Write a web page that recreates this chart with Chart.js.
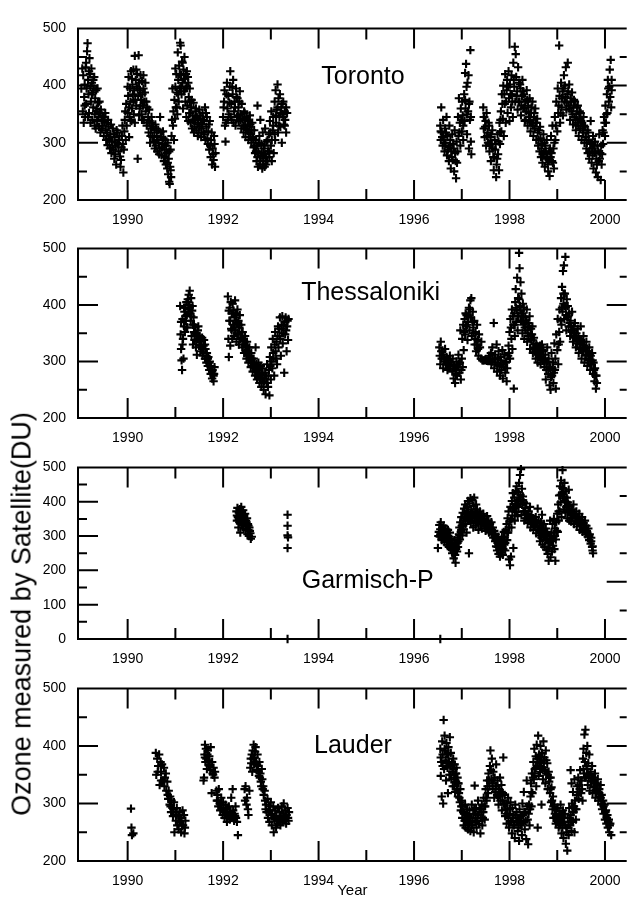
<!DOCTYPE html>
<html>
<head>
<meta charset="utf-8">
<script src="https://cdn.jsdelivr.net/npm/chart.js@4.4.1/dist/chart.umd.min.js"></script>
<style>
  html, body { margin: 0; padding: 0; background: #fff; overflow: hidden; }
  #page { position: relative; width: 633px; height: 900px; }
  #page canvas { position: absolute; left: 0; }
  #ytitle { position: absolute; left: 22px; top: 614px; transform: translate(-50%, -50%) rotate(-90deg);
    font: 27px "Liberation Sans", Arial, sans-serif; white-space: nowrap; color: #000; }
</style>
</head>
<body>
<div id="page">
  <canvas id="c0"></canvas>
  <canvas id="c1"></canvas>
  <canvas id="c2"></canvas>
  <canvas id="c3"></canvas>
  <div id="ytitle">Ozone measured by Satellite(DU)</div>
</div>
<script>
'use strict';

const tickYears = [1990, 1992, 1994, 1996, 1998, 2000];
const ozoneTicks = [200, 300, 400, 500];
const garmischTicks = [0, 100, 200, 300, 400, 500];
const stations = ['Toronto', 'Thessaloniki', 'Garmisch-P', 'Lauder'];

// [year, ozone DU]
const toronto = [
[1989.05,430],[1989.06,355],[1989.08,335],[1989.09,380],[1989.1,402],[1989.11,345],[1989.12,432],[1989.13,368],[1989.14,395],[1989.15,460],[1989.16,474],[1989.17,410],[1989.18,385],[1989.19,352],[1989.2,448],[1989.21,420],[1989.22,398],[1989.23,372],[1989.24,430],[1989.25,405],[1989.26,340],[1989.27,388],[1989.28,362],[1989.29,395],[1989.3,415],[1989.31,350],[1989.32,378],[1989.33,325],[1989.34,392],[1989.35,360],[1989.36,338],[1989.38,370],[1989.39,345],[1989.4,328],[1989.42,352],[1989.43,318],[1989.45,340],[1989.47,348],[1989.48,330],[1989.5,312],[1989.52,338],[1989.54,322],[1989.55,305],
[1989.57,318],[1989.58,296],[1989.6,328],[1989.61,308],[1989.63,290],[1989.64,315],[1989.66,282],[1989.67,302],[1989.69,325],[1989.7,288],[1989.72,272],[1989.73,310],[1989.75,295],[1989.76,262],[1989.78,300],[1989.79,318],[1989.81,285],[1989.82,305],[1989.84,276],[1989.85,258],[1989.87,292],[1989.88,312],[1989.9,298],[1989.91,248],[1989.93,320],[1989.94,340],[1989.96,305],
[1989.97,368],[1989.98,330],[1990.0,352],[1990.01,382],[1990.02,415],[1990.03,310],[1990.04,345],[1990.05,395],[1990.06,372],[1990.07,425],[1990.08,338],[1990.09,360],[1990.1,402],[1990.11,385],[1990.12,428],[1990.13,350],[1990.14,392],[1990.15,452],[1990.16,375],[1990.17,410],[1990.18,365],[1990.19,398],[1990.2,420],[1990.21,272],[1990.22,382],[1990.23,453],[1990.24,405],[1990.25,360],[1990.26,392],[1990.27,418],[1990.28,375],[1990.29,350],[1990.3,408],[1990.31,385],[1990.32,365],[1990.33,395],[1990.34,340],[1990.35,372],[1990.37,405],[1990.38,355],[1990.4,330],[1990.41,362],[1990.43,345],[1990.44,318],[1990.46,338],[1990.47,300],[1990.49,325],[1990.5,345],[1990.52,310],[1990.53,328],
[1990.55,302],[1990.56,318],[1990.58,332],[1990.59,295],[1990.61,312],[1990.62,285],[1990.64,322],[1990.65,300],[1990.67,290],[1990.68,345],[1990.7,310],[1990.71,278],[1990.73,298],[1990.74,320],[1990.76,268],[1990.77,288],[1990.79,305],[1990.8,262],[1990.82,282],[1990.83,255],[1990.84,300],[1990.85,245],[1990.86,272],[1990.87,232],[1990.88,228],[1990.89,258],[1990.9,288],[1990.91,240],[1990.92,312],[1990.93,340],[1990.94,395],[1990.95,330],[1990.96,355],
[1990.97,305],[1990.98,375],[1990.99,342],[1991.0,398],[1991.01,362],[1991.02,420],[1991.03,388],[1991.04,350],[1991.05,458],[1991.06,410],[1991.07,372],[1991.08,435],[1991.09,395],[1991.1,475],[1991.11,470],[1991.12,418],[1991.13,385],[1991.14,442],[1991.15,405],[1991.16,360],[1991.17,428],[1991.18,390],[1991.19,450],[1991.2,412],[1991.21,372],[1991.22,420],[1991.23,345],[1991.24,398],[1991.25,365],[1991.26,415],[1991.27,338],[1991.28,380],[1991.29,352],[1991.3,395],
[1991.32,335],[1991.33,362],[1991.35,325],[1991.36,348],[1991.38,370],[1991.39,318],[1991.41,340],[1991.42,355],[1991.44,322],[1991.45,345],[1991.47,312],[1991.48,335],[1991.5,358],[1991.51,328],[1991.53,342],[1991.54,310],[1991.56,332],[1991.57,352],[1991.59,318],[1991.6,338],[1991.62,362],[1991.63,305],[1991.65,328],[1991.66,345],[1991.68,298],[1991.69,320],[1991.71,288],[1991.72,338],[1991.74,275],[1991.75,305],[1991.77,262],[1991.78,290],[1991.8,270],[1991.81,312],[1991.83,258],[1991.84,282],
[1992.0,345],[1992.02,372],[1992.03,392],[1992.05,302],[1992.06,335],[1992.08,405],[1992.09,360],[1992.11,382],[1992.12,350],[1992.14,398],[1992.15,425],[1992.17,368],[1992.18,340],[1992.2,385],[1992.21,410],[1992.23,355],[1992.24,372],[1992.26,330],[1992.27,395],[1992.29,345],[1992.3,378],[1992.32,362],[1992.33,338],[1992.35,390],[1992.36,350],[1992.38,325],[1992.39,368],
[1992.41,342],[1992.43,318],[1992.44,355],[1992.46,330],[1992.47,310],[1992.49,345],[1992.5,322],[1992.52,338],[1992.53,305],[1992.55,328],[1992.56,348],[1992.58,315],[1992.59,300],[1992.61,335],[1992.62,310],[1992.64,292],
[1992.65,322],[1992.67,282],[1992.68,305],[1992.7,268],[1992.71,295],[1992.72,365],[1992.73,258],[1992.74,285],[1992.76,312],[1992.77,262],[1992.78,340],[1992.79,278],[1992.8,298],[1992.82,255],[1992.83,318],[1992.84,272],[1992.85,290],[1992.87,258],[1992.88,325],[1992.89,280],[1992.9,262],[1992.91,302],[1992.93,268],[1992.94,285],
[1992.96,315],[1992.97,275],[1992.98,338],[1993.0,295],[1993.01,355],[1993.02,268],[1993.04,322],[1993.05,345],[1993.06,282],[1993.08,372],[1993.09,305],[1993.1,392],[1993.11,335],[1993.12,358],[1993.14,402],[1993.15,318],[1993.16,378],[1993.18,345],[1993.19,385],[1993.2,328],[1993.22,362],[1993.23,300],[1993.24,350],[1993.26,372],[1993.27,332],[1993.29,355],[1993.3,340],[1993.32,318],[1993.34,352],
[1996.55,330],[1996.56,305],[1996.57,362],[1996.58,318],[1996.6,295],[1996.61,340],[1996.62,310],[1996.64,285],[1996.65,325],[1996.66,300],[1996.68,345],[1996.69,278],[1996.7,312],[1996.72,292],[1996.73,268],[1996.74,330],[1996.76,305],[1996.77,255],[1996.78,285],[1996.8,315],[1996.81,270],[1996.82,298],[1996.84,250],[1996.85,322],[1996.86,282],[1996.88,238],[1996.89,302],[1996.9,265],[1996.92,345],[1996.93,312],[1996.94,378],
[1996.96,335],[1996.97,295],[1996.98,360],[1997.0,320],[1997.01,372],[1997.02,348],[1997.03,305],[1997.05,385],[1997.06,338],[1997.07,422],[1997.08,360],[1997.09,438],[1997.1,398],[1997.11,315],[1997.12,405],[1997.13,355],[1997.14,418],[1997.15,290],[1997.16,372],[1997.17,340],[1997.18,462],[1997.19,302],[1997.2,280],
[1997.45,362],[1997.46,325],[1997.47,345],[1997.48,310],[1997.5,338],[1997.51,295],[1997.52,352],[1997.54,318],[1997.55,300],[1997.57,330],[1997.58,285],[1997.6,310],[1997.61,268],[1997.63,298],[1997.64,322],[1997.66,275],[1997.67,252],[1997.69,305],[1997.7,288],[1997.72,240],[1997.73,262],[1997.75,315],[1997.76,280],[1997.78,252],[1997.79,335],
[1997.8,298],[1997.82,355],[1997.83,320],[1997.84,385],[1997.86,342],[1997.87,400],[1997.88,312],[1997.9,368],[1997.91,420],[1997.92,335],[1997.94,392],[1997.95,410],[1997.96,352],[1997.98,425],[1997.99,378],[1998.0,338],[1998.01,402],[1998.03,362],[1998.04,418],[1998.05,385],[1998.07,345],[1998.08,440],[1998.1,398],[1998.11,468],[1998.12,372],[1998.13,455],[1998.14,415],[1998.16,390],[1998.17,358],[1998.18,432],[1998.2,405],
[1998.21,372],[1998.23,395],[1998.24,348],[1998.26,382],[1998.27,410],[1998.29,360],[1998.3,385],[1998.32,338],[1998.33,372],[1998.35,355],[1998.36,392],[1998.38,330],[1998.39,365],[1998.41,345],[1998.42,378],[1998.44,320],[1998.45,352],[1998.47,335],[1998.48,372],[1998.5,312],[1998.51,345],[1998.53,325],[1998.54,360],[1998.56,305],[1998.57,335],[1998.59,318],
[1998.6,295],[1998.62,322],[1998.63,285],[1998.65,308],[1998.66,275],[1998.68,298],[1998.69,265],[1998.71,315],[1998.72,282],[1998.74,258],[1998.75,295],[1998.77,272],[1998.78,305],[1998.8,262],[1998.81,250],[1998.83,285],[1998.84,242],[1998.86,275],[1998.87,312],[1998.89,268],[1998.9,330],[1998.92,290],[1998.93,255],
[1998.95,345],[1998.96,305],[1998.98,372],[1999.0,320],[1999.01,395],[1999.02,352],[1999.04,470],[1999.05,382],[1999.06,335],[1999.08,405],[1999.09,362],[1999.11,390],[1999.12,348],[1999.14,418],[1999.15,372],[1999.16,400],[1999.18,432],[1999.19,358],[1999.21,385],[1999.22,440],[1999.24,365],[1999.25,402],[1999.27,340],[1999.28,378],[1999.3,355],
[1999.31,388],[1999.33,332],[1999.34,362],[1999.36,345],[1999.37,372],[1999.39,322],[1999.4,350],[1999.42,335],[1999.43,365],[1999.45,312],[1999.46,342],[1999.48,325],[1999.49,352],[1999.51,305],[1999.52,335],[1999.54,318],[1999.55,345],[1999.57,300],[1999.58,328],
[1999.6,310],[1999.61,290],[1999.63,322],[1999.64,282],[1999.66,305],[1999.67,272],[1999.69,298],[1999.7,338],[1999.72,265],[1999.73,290],[1999.75,312],[1999.76,255],[1999.78,282],[1999.79,302],[1999.81,248],[1999.82,272],[1999.84,295],[1999.85,240],[1999.87,268],[1999.88,315],[1999.9,282],[1999.91,235],[1999.93,262],
[1999.95,322],[1999.96,298],[1999.98,345],[2000.0,312],[2000.01,365],[2000.02,335],[2000.04,385],[2000.05,352],[2000.06,410],[2000.08,372],[2000.09,398],[2000.1,428],[2000.12,445],[2000.13,362],[2000.14,392],
// second pass, inside the dense clouds
[1989.03,395],[1989.07,418],[1989.1,365],[1989.13,440],[1989.17,345],[1989.19,425],[1989.22,335],[1989.25,385],[1989.28,410],[1989.31,330],[1989.34,355],[1989.37,395],[1989.41,372],[1989.44,358],[1989.46,325],[1989.49,345],[1989.53,352],[1989.56,335],
[1989.59,340],[1989.62,305],[1989.65,332],[1989.68,292],[1989.71,315],[1989.74,280],[1989.77,322],[1989.8,298],[1989.83,312],[1989.86,270],[1989.89,330],[1989.92,288],[1989.95,355],
[1990.0,398],[1990.03,362],[1990.06,340],[1990.09,412],[1990.12,372],[1990.15,335],[1990.18,428],[1990.21,395],[1990.24,348],[1990.27,365],[1990.3,340],[1990.33,418],[1990.36,388],[1990.39,372],[1990.42,335],[1990.45,358],[1990.48,312],[1990.51,335],
[1990.57,290],[1990.6,325],[1990.63,305],[1990.66,280],[1990.69,318],[1990.72,292],[1990.75,308],[1990.78,275],[1990.81,295],[1990.84,265],[1990.87,285],[1990.9,252],
[1991.0,430],[1991.03,362],[1991.06,385],[1991.09,420],[1991.12,398],[1991.15,440],[1991.18,412],[1991.21,395],[1991.24,425],[1991.27,405],[1991.3,372],
[1991.31,352],[1991.34,375],[1991.37,340],[1991.4,328],[1991.43,360],[1991.46,332],[1991.49,318],[1991.52,348],[1991.55,325],[1991.58,340],[1991.61,315],[1991.64,352],[1991.67,308],[1991.7,332],[1991.73,295],[1991.76,318],[1991.79,280],[1991.82,298],
[1992.01,362],[1992.04,330],[1992.07,385],[1992.1,340],[1992.13,370],[1992.16,345],[1992.19,398],[1992.22,335],[1992.25,362],[1992.28,380],[1992.31,348],[1992.34,372],[1992.37,340],
[1992.42,330],[1992.45,352],[1992.48,325],[1992.51,340],[1992.54,318],[1992.57,332],[1992.6,322],[1992.63,308],[1992.66,295],[1992.69,285],[1992.72,275],[1992.75,300],[1992.78,268],[1992.81,282],[1992.84,262],[1992.87,295],[1992.9,275],[1992.93,305],[1992.96,285],[1992.99,318],[1993.02,305],[1993.05,330],[1993.08,315],[1993.11,348],[1993.14,362],[1993.17,330],[1993.2,352],[1993.23,368],[1993.26,345],[1993.29,330],[1993.32,362],
[1996.56,320],[1996.59,310],[1996.63,300],[1996.67,318],[1996.71,288],[1996.75,295],[1996.79,275],[1996.83,290],[1996.87,268],[1996.91,285],[1996.95,318],[1996.99,340],[1997.03,330],[1997.07,375],[1997.11,350],[1997.15,368],[1997.19,345],
[1997.46,345],[1997.49,328],[1997.53,312],[1997.56,335],[1997.59,298],[1997.62,315],[1997.65,290],[1997.68,275],[1997.71,298],[1997.74,272],[1997.77,302],[1997.8,318],
[1997.81,340],[1997.85,368],[1997.89,385],[1997.93,372],[1997.97,398],[1998.02,385],[1998.06,372],[1998.09,410],[1998.15,382],[1998.19,372],[1998.22,402],[1998.25,365],[1998.28,390],[1998.31,362],[1998.34,340],[1998.37,375],[1998.4,352],[1998.43,338],[1998.46,362],[1998.49,330],[1998.52,352],[1998.55,335],[1998.58,342],
[1998.61,305],[1998.64,328],[1998.67,290],[1998.7,280],[1998.73,300],[1998.76,285],[1998.79,275],[1998.82,270],[1998.85,290],[1998.88,282],[1998.91,265],[1998.94,300],
[1998.97,330],[1999.03,365],[1999.07,352],[1999.1,378],[1999.13,395],[1999.17,380],[1999.2,370],[1999.23,390],[1999.26,360],[1999.29,372],[1999.32,350],[1999.35,375],[1999.38,340],[1999.41,362],[1999.44,330],[1999.47,355],[1999.5,338],[1999.53,322],[1999.56,330],[1999.59,310],
[1999.62,300],[1999.65,318],[1999.68,285],[1999.71,300],[1999.74,278],[1999.77,295],[1999.8,285],[1999.83,262],[1999.86,285],[1999.89,272],[1999.92,295],[1999.94,280],[1999.97,318],[1999.99,335],[2000.03,350],[2000.07,395],[2000.11,380],[2000.14,410]
];

const thessaloniki = [
[1991.1,398],[1991.11,348],[1991.12,322],[1991.13,302],[1991.14,285],[1991.15,375],[1991.16,340],[1991.17,305],[1991.18,362],[1991.19,388],[1991.2,352],[1991.21,395],[1991.22,372],[1991.23,405],[1991.24,382],[1991.25,360],[1991.26,410],[1991.27,392],[1991.28,418],[1991.29,400],[1991.3,425],[1991.31,385],[1991.32,372],[1991.33,412],[1991.34,345],[1991.35,390],[1991.36,365],[1991.37,330],[1991.38,378],[1991.39,352],[1991.4,338],[1991.42,360],[1991.43,325],[1991.44,348],[1991.45,312],[1991.47,340],[1991.48,362],[1991.5,328],[1991.51,345],[1991.53,318],[1991.54,335],[1991.56,342],[1991.57,310],[1991.59,328],[1991.6,338],[1991.62,305],[1991.63,322],[1991.65,298],[1991.66,315],[1991.68,292],[1991.69,308],[1991.71,285],[1991.72,300],[1991.74,278],[1991.75,292],[1991.77,270],[1991.78,285],[1991.8,265],[1991.81,278],[1991.82,290],
[1992.1,415],[1992.11,340],[1992.12,308],[1992.13,372],[1992.14,395],[1992.15,328],[1992.16,405],[1992.17,358],[1992.18,385],[1992.19,340],[1992.2,402],[1992.21,365],[1992.22,390],[1992.23,345],[1992.24,378],[1992.25,408],[1992.26,355],[1992.27,385],[1992.28,335],[1992.29,368],[1992.3,392],[1992.31,348],[1992.32,372],[1992.33,330],[1992.34,360],[1992.35,382],[1992.37,342],[1992.38,365],[1992.4,325],[1992.41,352],[1992.43,338],[1992.44,315],[1992.46,345],[1992.47,328],[1992.49,305],[1992.5,335],[1992.52,318],[1992.53,298],[1992.55,325],[1992.56,308],[1992.58,290],[1992.59,315],[1992.61,298],[1992.62,282],[1992.64,305],[1992.65,288],[1992.67,275],[1992.68,325],[1992.7,295],[1992.71,268],[1992.73,285],[1992.74,298],[1992.76,262],[1992.77,278],[1992.79,292],[1992.8,255],[1992.82,272],[1992.83,288],[1992.85,250],[1992.86,265],[1992.88,280],[1992.89,242],[1992.91,262],[1992.92,295],[1992.94,255],[1992.95,275],[1992.97,240],[1992.98,308],[1993.0,268],[1993.01,325],[1993.03,288],[1993.04,340],[1993.06,305],[1993.07,275],[1993.09,352],[1993.1,318],[1993.12,335],[1993.13,295],[1993.15,362],[1993.16,325],[1993.18,345],[1993.19,378],[1993.21,310],[1993.22,358],[1993.24,380],[1993.25,332],[1993.27,365],[1993.28,280],[1993.3,348],[1993.31,378],[1993.33,318],[1993.34,362],[1993.36,338],[1993.37,375],
[1996.53,325],[1996.54,310],[1996.55,295],[1996.56,335],[1996.58,305],[1996.59,318],[1996.61,288],[1996.62,312],[1996.64,300],[1996.65,322],[1996.67,295],[1996.68,308],[1996.7,285],[1996.72,302],[1996.73,292],[1996.75,310],
[1996.78,298],[1996.8,282],[1996.81,305],[1996.83,270],[1996.84,292],[1996.86,262],[1996.87,285],[1996.89,300],[1996.9,275],[1996.92,290],[1996.93,312],[1996.95,280],[1996.96,298],[1996.98,268],[1996.99,285],[1997.0,305],[1997.02,290],
[1996.97,355],[1997.01,340],[1997.03,365],[1997.04,320],[1997.06,375],[1997.07,348],[1997.09,362],[1997.1,382],[1997.12,338],[1997.13,370],[1997.15,395],[1997.16,355],[1997.18,408],[1997.19,378],[1997.2,412],[1997.21,345],[1997.23,388],[1997.24,360],[1997.26,372],[1997.27,330],[1997.29,352],[1997.3,318],[1997.32,365],[1997.33,338],[1997.35,310],[1997.36,348],[1997.38,325],[1997.4,305],[1997.41,335],[1997.43,302],[1997.45,302],[1997.47,302],[1997.49,303],[1997.51,302],[1997.53,301],[1997.55,302],[1997.57,310],[1997.59,303],
[1997.61,315],[1997.62,295],[1997.64,325],[1997.65,305],[1997.67,368],[1997.68,288],[1997.7,312],[1997.71,298],[1997.73,330],[1997.74,282],[1997.76,305],[1997.77,318],[1997.79,292],[1997.8,275],[1997.82,302],[1997.83,285],[1997.85,320],[1997.86,270],[1997.88,295],[1997.89,312],[1997.91,280],[1997.92,298],[1997.94,265],[1997.95,288],[1997.97,310],
[1997.98,328],[1998.0,352],[1998.01,305],[1998.02,375],[1998.04,340],[1998.05,392],[1998.06,322],[1998.08,365],[1998.09,252],[1998.1,385],[1998.11,345],[1998.12,405],[1998.13,428],[1998.14,370],[1998.15,392],[1998.16,448],[1998.17,355],[1998.18,412],[1998.19,380],[1998.2,492],[1998.21,465],[1998.22,398],[1998.23,440],[1998.24,372],[1998.25,420],[1998.26,385],[1998.27,350],[1998.28,402],[1998.29,365],[1998.3,395],[1998.31,340],
[1998.33,378],[1998.34,355],[1998.36,392],[1998.37,335],[1998.39,368],[1998.4,345],[1998.42,380],[1998.43,322],[1998.45,358],[1998.46,338],[1998.48,362],[1998.49,315],[1998.51,342],
[1998.53,325],[1998.55,305],[1998.56,332],[1998.58,315],[1998.59,298],[1998.61,322],[1998.62,308],[1998.64,328],[1998.65,295],[1998.67,312],[1998.68,330],[1998.7,302],[1998.71,318],
[1998.73,290],[1998.75,312],[1998.76,268],[1998.78,298],[1998.79,325],[1998.81,278],[1998.82,305],[1998.84,258],[1998.85,288],[1998.86,250],[1998.88,315],[1998.89,275],[1998.91,298],[1998.92,262],[1998.94,332],[1998.95,285],[1998.97,252],[1998.98,348],
[1999.0,320],[1999.01,375],[1999.02,295],[1999.04,352],[1999.05,392],[1999.06,335],[1999.08,412],[1999.09,365],[1999.1,432],[1999.11,388],[1999.12,460],[1999.13,402],[1999.14,470],[1999.15,375],[1999.16,420],[1999.17,485],[1999.18,395],[1999.19,355],[1999.2,410],[1999.21,378],[1999.22,398],[1999.24,362],[1999.25,385],[1999.27,345],[1999.28,372],[1999.3,352],[1999.31,388],[1999.33,335],[1999.34,362],[1999.36,342],[1999.37,368],[1999.39,325],
[1999.4,350],[1999.42,332],[1999.43,358],[1999.45,315],[1999.46,340],[1999.48,322],[1999.49,362],[1999.51,305],[1999.52,335],[1999.54,318],[1999.55,345],[1999.57,298],[1999.58,325],[1999.6,310],[1999.61,335],[1999.63,292],[1999.64,318],[1999.66,302],[1999.67,325],[1999.69,285],[1999.7,310],[1999.72,295],[1999.73,315],[1999.75,278],[1999.76,298],[1999.78,265],[1999.79,288],[1999.81,252],[1999.82,275],
// second pass
[1991.12,370],[1991.15,330],[1991.18,395],[1991.21,380],[1991.24,360],[1991.27,405],[1991.3,395],[1991.33,380],[1991.36,398],[1991.39,365],[1991.41,350],[1991.44,335],[1991.47,355],[1991.5,340],[1991.53,330],[1991.56,322],[1991.59,315],[1991.62,330],[1991.65,310],[1991.68,305],[1991.71,298],[1991.74,290],[1991.77,282],[1991.8,275],
[1992.12,390],[1992.15,372],[1992.18,355],[1992.21,385],[1992.24,360],[1992.27,372],[1992.3,350],[1992.33,365],[1992.36,340],[1992.39,352],[1992.42,330],[1992.45,335],[1992.48,318],[1992.51,325],[1992.54,310],[1992.57,302],[1992.6,305],[1992.63,292],[1992.66,295],[1992.69,282],[1992.72,290],[1992.75,275],[1992.78,268],[1992.81,280],[1992.84,262],[1992.87,270],[1992.9,275],[1992.93,262],[1992.96,285],[1992.99,292],[1993.02,300],[1993.05,315],[1993.08,330],[1993.11,305],[1993.14,345],[1993.17,358],[1993.2,340],[1993.23,365],[1993.26,350],[1993.29,370],[1993.32,355],[1993.35,372],
[1996.57,318],[1996.63,305],[1996.69,298],[1996.76,295],[1996.82,288],[1996.88,278],[1996.94,295],[1997.05,352],[1997.08,385],[1997.11,365],[1997.14,380],[1997.17,392],[1997.22,370],[1997.25,350],[1997.28,340],[1997.31,330],[1997.34,322],[1997.63,300],[1997.69,305],[1997.75,295],[1997.81,308],[1997.87,290],[1997.93,300],[1997.99,315],
[1998.03,360],[1998.07,380],[1998.11,365],[1998.14,395],[1998.17,380],[1998.2,410],[1998.23,390],[1998.26,372],[1998.29,380],[1998.32,360],[1998.35,372],[1998.38,350],[1998.41,362],[1998.44,340],[1998.47,348],[1998.5,330],[1998.54,318],[1998.57,328],[1998.6,312],[1998.63,318],[1998.66,305],[1998.69,320],[1998.72,305],[1998.74,300],[1998.77,285],[1998.8,300],[1998.83,290],[1998.87,272],[1998.9,288],[1998.93,280],[1998.96,305],
[1999.03,330],[1999.07,372],[1999.1,395],[1999.13,420],[1999.16,398],[1999.19,382],[1999.23,380],[1999.26,368],[1999.29,362],[1999.32,355],[1999.35,350],[1999.38,345],[1999.41,338],[1999.44,342],[1999.47,330],[1999.5,338],[1999.53,320],[1999.56,328],[1999.59,312],[1999.62,318],[1999.65,305],[1999.68,312],[1999.71,300],[1999.74,302],[1999.77,285],[1999.8,275],[1999.83,262]
];

const garmisch = [
[1992.28,372],[1992.29,345],[1992.3,382],[1992.31,355],[1992.32,325],[1992.33,368],[1992.34,340],[1992.35,378],[1992.36,310],[1992.37,352],[1992.38,385],[1992.39,335],[1992.4,362],[1992.41,348],[1992.42,375],[1992.43,322],[1992.44,358],[1992.45,338],[1992.46,365],[1992.47,318],[1992.48,345],[1992.49,330],[1992.5,352],[1992.51,305],[1992.52,335],[1992.53,318],[1992.54,300],[1992.55,325],[1992.57,308],[1992.58,292],[1992.6,298],
[1993.35,362],[1993.35,330],[1993.35,302],[1993.36,296],[1993.35,265],[1993.35,0],[1996.55,0],
[1996.5,265],[1996.52,312],[1996.53,332],[1996.54,298],[1996.55,320],[1996.56,340],[1996.57,305],[1996.58,288],[1996.59,325],[1996.6,310],[1996.61,295],[1996.62,330],[1996.63,315],[1996.64,282],[1996.65,305],[1996.66,322],[1996.67,292],[1996.68,310],[1996.69,275],[1996.7,300],[1996.71,318],[1996.72,288],[1996.73,268],[1996.74,298],[1996.75,310],[1996.76,280],
[1996.77,262],[1996.78,292],[1996.79,272],[1996.8,250],[1996.81,282],[1996.82,258],[1996.83,235],[1996.84,270],[1996.85,288],[1996.86,245],[1996.87,222],[1996.88,262],[1996.89,278],[1996.9,255],[1996.91,295],[1996.92,268],[1996.93,285],[1996.94,305],
[1996.95,325],[1996.96,290],[1996.97,340],[1996.98,312],[1996.99,355],[1997.0,330],[1997.01,302],[1997.02,368],[1997.03,345],[1997.04,320],[1997.05,380],[1997.06,352],[1997.07,392],[1997.08,335],[1997.09,365],[1997.1,310],[1997.11,385],[1997.12,348],[1997.13,402],[1997.14,372],[1997.15,250],[1997.16,395],[1997.17,358],[1997.18,410],[1997.19,338],[1997.2,378],[1997.21,352],[1997.22,405],[1997.23,368],[1997.24,325],[1997.25,388],[1997.26,412],[1997.27,345],[1997.28,372],[1997.29,330],[1997.3,392],[1997.31,355],[1997.32,378],[1997.33,340],[1997.34,362],[1997.35,318],
[1997.37,352],[1997.38,372],[1997.39,335],[1997.41,360],[1997.42,322],[1997.44,348],[1997.45,365],[1997.47,330],[1997.48,352],[1997.5,315],[1997.51,340],[1997.53,358],[1997.54,325],[1997.56,345],[1997.57,310],[1997.59,335],[1997.6,318],[1997.62,340],[1997.63,305],[1997.65,325],[1997.66,295],[1997.68,315],[1997.69,300],
[1997.7,285],[1997.71,305],[1997.72,270],[1997.73,292],[1997.74,258],[1997.75,280],[1997.76,298],[1997.77,248],[1997.78,272],[1997.79,288],[1997.8,240],[1997.81,262],[1997.82,282],[1997.83,252],[1997.84,298],[1997.85,268],[1997.86,245],[1997.87,285],[1997.88,312],[1997.89,275],[1997.9,295],[1997.91,258],[1997.92,318],
[1997.94,335],[1997.95,288],[1997.96,352],[1997.97,310],[1997.98,372],[1997.99,232],[1998.0,342],[1998.01,215],[1998.02,385],[1998.03,240],[1998.04,325],[1998.05,402],[1998.06,360],[1998.07,425],[1998.08,265],[1998.09,380],[1998.1,412],[1998.11,345],[1998.12,395],[1998.13,432],[1998.14,370],[1998.15,445],[1998.16,402],[1998.17,358],[1998.18,428],[1998.19,385],[1998.2,455],[1998.21,412],[1998.22,478],[1998.23,395],[1998.24,495],[1998.25,362],[1998.26,438],[1998.27,392],[1998.28,415],[1998.29,372],[1998.3,398],[1998.31,345],
[1998.33,382],[1998.34,352],[1998.35,395],[1998.37,365],[1998.38,338],[1998.4,372],[1998.41,348],[1998.43,385],[1998.44,325],[1998.46,360],[1998.47,335],[1998.49,352],[1998.5,318],[1998.52,345],[1998.53,328],[1998.55,355],[1998.56,308],[1998.58,338],[1998.59,380],
[1998.6,320],[1998.61,345],[1998.62,302],[1998.63,330],[1998.64,285],[1998.65,312],[1998.66,340],[1998.67,295],[1998.68,362],[1998.69,275],[1998.7,318],[1998.71,298],[1998.72,335],[1998.73,268],[1998.74,305],[1998.75,288],[1998.76,322],[1998.77,260],[1998.78,292],[1998.79,312],[1998.8,248],[1998.81,280],[1998.82,228],[1998.83,300],[1998.84,265],[1998.85,345],[1998.86,238],[1998.87,285],[1998.88,310],[1998.89,255],[1998.9,335],[1998.91,272],[1998.92,298],[1998.93,350],[1998.94,262],[1998.95,322],[1998.96,228],[1998.97,290],[1998.98,340],
[1999.0,365],[1999.01,312],[1999.02,392],[1999.03,345],[1999.04,418],[1999.05,372],[1999.06,445],[1999.07,398],[1999.08,462],[1999.09,355],[1999.1,425],[1999.11,492],[1999.12,410],[1999.13,438],[1999.14,378],[1999.15,455],[1999.16,402],[1999.17,368],[1999.18,430],[1999.19,385],[1999.2,412],[1999.21,352],[1999.22,398],[1999.23,372],[1999.24,435],[1999.25,345],[1999.26,388],
[1999.28,365],[1999.29,342],[1999.31,378],[1999.32,352],[1999.34,392],[1999.35,335],[1999.37,362],[1999.38,345],[1999.4,372],[1999.41,328],[1999.43,355],[1999.44,340],[1999.46,365],[1999.47,318],[1999.49,348],[1999.5,332],[1999.52,355],[1999.53,312],[1999.55,338],[1999.56,322],[1999.58,345],[1999.59,305],[1999.61,330],[1999.62,315],[1999.64,298],[1999.65,322],[1999.67,288],[1999.68,305],[1999.7,278],[1999.71,295],[1999.73,268],[1999.74,258],[1999.75,250],
// second pass
[1992.29,360],[1992.33,350],[1992.37,370],[1992.41,330],[1992.45,350],[1992.49,340],[1992.53,330],[1992.56,315],
[1996.51,300],[1996.55,305],[1996.59,298],[1996.63,300],[1996.67,308],[1996.71,295],[1996.75,290],[1996.79,280],[1996.83,265],[1996.87,272],[1996.91,280],[1996.95,302],[1996.99,318],[1997.03,330],[1997.07,352],[1997.11,362],[1997.15,345],[1997.19,365],[1997.23,352],[1997.27,360],[1997.31,340],[1997.35,345],[1997.39,350],[1997.43,338],[1997.47,342],[1997.51,328],[1997.55,332],[1997.59,322],[1997.63,318],[1997.67,305],[1997.71,290],[1997.75,268],[1997.79,275],[1997.83,268],[1997.87,262],[1997.91,280],[1997.95,310],[1997.99,325],
[1998.03,350],[1998.07,380],[1998.11,372],[1998.15,390],[1998.19,405],[1998.23,420],[1998.27,405],[1998.31,372],[1998.35,362],[1998.39,355],[1998.43,352],[1998.47,345],[1998.51,335],[1998.55,340],[1998.59,325],[1998.63,315],[1998.67,318],[1998.71,310],[1998.75,305],[1998.79,290],[1998.83,280],[1998.87,300],[1998.91,290],[1998.95,300],[1998.99,315],
[1999.03,372],[1999.07,420],[1999.11,440],[1999.15,415],[1999.19,400],[1999.23,390],[1999.27,372],[1999.31,360],[1999.35,365],[1999.39,352],[1999.43,345],[1999.47,340],[1999.51,335],[1999.55,325],[1999.59,318],[1999.63,310],[1999.67,300],[1999.71,285],[1999.74,270]
];

const lauder = [
[1990.07,291],[1990.08,258],[1990.09,245],[1990.12,248],
[1990.59,388],[1990.6,350],[1990.62,378],[1990.64,365],[1990.66,385],[1990.67,332],[1990.69,372],[1990.7,355],[1990.72,368],[1990.74,340],[1990.76,362],[1990.78,345],[1990.8,352],[1990.81,322],[1990.83,338],[1990.85,308],[1990.86,322],[1990.88,298],[1990.89,312],[1990.91,285],[1990.92,305],[1990.94,292],[1990.95,278],[1990.97,302],[1990.98,250],[1991.0,285],[1991.01,270],[1991.03,292],[1991.04,262],[1991.06,278],[1991.07,255],[1991.09,285],[1991.1,268],[1991.12,250],[1991.13,275],[1991.15,288],[1991.16,262],[1991.18,280],[1991.19,248],[1991.21,270],
[1991.59,340],[1991.6,345],[1991.61,385],[1991.62,402],[1991.63,372],[1991.64,395],[1991.65,378],[1991.66,360],[1991.68,392],[1991.69,375],[1991.7,368],[1991.71,382],[1991.73,358],[1991.74,398],[1991.76,318],[1991.77,372],[1991.78,352],[1991.8,362],[1991.82,345],[1991.83,355],
[1991.86,322],[1991.87,305],[1991.88,315],[1991.9,295],[1991.91,325],[1991.93,300],[1991.94,288],[1991.96,310],[1991.97,292],[1991.99,280],[1992.0,302],[1992.02,285],[1992.03,275],[1992.05,298],[1992.06,282],[1992.08,268],[1992.09,292],[1992.11,278],[1992.12,295],[1992.14,272],[1992.15,285],[1992.17,310],[1992.18,275],[1992.2,325],[1992.21,288],[1992.23,270],[1992.24,282],[1992.26,295],[1992.27,275],[1992.29,268],[1992.31,245],
[1992.45,325],[1992.46,305],[1992.47,330],[1992.49,298],[1992.5,310],[1992.52,290],[1992.53,280],[1992.55,322],
[1992.57,362],[1992.58,378],[1992.6,385],[1992.61,355],[1992.62,392],[1992.64,402],[1992.65,368],[1992.66,380],[1992.68,398],[1992.69,372],[1992.7,358],[1992.72,385],[1992.73,365],[1992.75,348],[1992.76,372],[1992.78,352],[1992.79,338],[1992.81,360],[1992.82,342],[1992.84,330],[1992.85,315],
[1992.87,322],[1992.88,305],[1992.9,298],[1992.91,285],[1992.93,308],[1992.94,275],[1992.96,295],[1992.97,268],[1992.99,288],[1993.0,302],[1993.02,262],[1993.03,282],[1993.05,295],[1993.06,250],[1993.08,272],[1993.09,288],[1993.11,258],[1993.12,278],[1993.14,265],[1993.15,292],[1993.17,270],[1993.18,285],[1993.2,262],[1993.21,278],[1993.23,295],[1993.24,268],[1993.26,282],[1993.27,300],[1993.29,272],[1993.3,288],[1993.32,265],[1993.33,280],[1993.35,292],[1993.36,275],[1993.38,285],
[1996.55,395],[1996.56,348],[1996.57,372],[1996.58,312],[1996.59,408],[1996.6,385],[1996.61,300],[1996.62,445],[1996.63,360],[1996.64,418],[1996.65,392],[1996.66,375],[1996.67,340],[1996.68,405],[1996.69,385],[1996.7,362],[1996.71,318],[1996.72,398],[1996.73,372],[1996.74,350],[1996.75,415],[1996.76,365],[1996.77,388],[1996.78,342],[1996.79,372],[1996.8,355],[1996.81,330],[1996.82,378],[1996.83,360],[1996.84,345],[1996.85,368],[1996.86,320],[1996.87,352],[1996.88,338],[1996.89,362],[1996.9,325],[1996.91,345],[1996.92,312],
[1996.93,335],[1996.94,318],[1996.96,302],[1996.97,325],[1996.98,288],[1997.0,305],[1997.01,275],[1997.02,295],[1997.04,262],[1997.05,282],[1997.07,298],[1997.08,258],[1997.1,272],[1997.11,290],[1997.13,255],[1997.14,278],
[1997.15,265],[1997.16,288],[1997.18,252],[1997.19,275],[1997.21,298],[1997.22,262],[1997.24,282],[1997.25,250],[1997.27,331],[1997.28,270],[1997.3,292],[1997.31,258],[1997.33,280],[1997.34,305],[1997.36,265],[1997.37,290],[1997.39,248],[1997.4,275],[1997.42,298],[1997.43,262],[1997.45,285],[1997.46,310],[1997.48,272],
[1997.49,295],[1997.5,325],[1997.52,305],[1997.53,340],[1997.55,318],[1997.56,352],[1997.58,330],[1997.59,365],[1997.6,392],[1997.62,342],[1997.63,378],[1997.65,325],[1997.66,355],[1997.68,310],[1997.69,345],[1997.71,330],[1997.72,368],[1997.74,315],[1997.75,340],[1997.77,298],[1997.78,325],[1997.8,345],[1997.81,305],[1997.83,332],[1997.84,288],[1997.86,318],[1997.87,380],[1997.89,298],
[1997.9,315],[1997.91,278],[1997.93,300],[1997.94,265],[1997.96,290],[1997.97,310],[1997.99,258],[1998.0,282],[1998.02,302],[1998.03,270],[1998.05,248],[1998.06,292],[1998.08,262],[1998.09,280],[1998.11,240],[1998.12,298],[1998.14,268],[1998.15,285],[1998.17,252],[1998.18,275],[1998.2,235],[1998.21,290],[1998.23,262],[1998.24,278],[1998.26,245],[1998.27,300],[1998.29,268],[1998.3,320],[1998.32,255],[1998.33,285],[1998.35,238],[1998.36,340],[1998.38,272],[1998.39,229],[1998.41,298],[1998.42,262],[1998.44,312],
[1998.45,335],[1998.46,295],[1998.47,352],[1998.48,318],[1998.5,372],[1998.51,342],[1998.52,395],[1998.53,360],[1998.55,382],[1998.56,330],[1998.57,402],[1998.58,365],[1998.59,258],[1998.6,418],[1998.61,348],[1998.62,385],[1998.64,355],[1998.65,400],[1998.66,372],[1998.67,298],[1998.68,388],[1998.7,342],[1998.71,408],[1998.72,362],[1998.73,380],[1998.75,335],[1998.76,392],[1998.77,352],[1998.79,370],[1998.8,325],[1998.82,355],[1998.83,338],
[1998.85,318],[1998.86,345],[1998.87,302],[1998.88,328],[1998.9,290],[1998.91,312],[1998.92,275],[1998.94,298],[1998.95,282],[1998.97,265],[1998.98,288],
[1999.0,272],[1999.01,292],[1999.03,258],[1999.04,280],[1999.06,265],[1999.07,298],[1999.09,248],[1999.1,275],[1999.12,288],[1999.13,240],[1999.15,268],[1999.16,282],[1999.18,230],[1999.19,258],[1999.21,218],[1999.22,275],[1999.24,245],[1999.25,292],[1999.27,262],[1999.28,280],[1999.3,252],[1999.31,300],[1999.33,268],[1999.34,285],[1999.36,250],[1999.37,305],[1999.39,272],[1999.4,290],
[1999.28,358],[1999.3,335],[1999.33,320],[1999.36,342],[1999.41,315],[1999.42,330],[1999.44,345],[1999.45,308],[1999.47,325],[1999.48,358],[1999.5,318],[1999.51,340],[1999.53,305],[1999.54,378],[1999.55,395],[1999.56,352],[1999.57,420],[1999.58,372],[1999.59,428],[1999.6,345],[1999.61,388],[1999.62,360],[1999.63,400],[1999.64,332],[1999.65,370],[1999.66,345],[1999.67,385],[1999.68,322],[1999.7,355],[1999.71,338],[1999.73,365],[1999.74,318],[1999.76,345],[1999.77,328],[1999.79,352],[1999.8,310],[1999.82,335],[1999.83,322],[1999.85,342],[1999.86,305],[1999.88,325],[1999.89,312],[1999.91,332],[1999.92,298],
[1999.93,315],[1999.94,290],[1999.96,305],[1999.97,282],[1999.99,298],[2000.0,272],[2000.02,288],[2000.03,265],[2000.05,280],[2000.06,258],[2000.08,272],[2000.09,250],[2000.11,265],[2000.13,245],
// second pass
[1990.63,355],[1990.7,340],[1990.77,330],[1990.84,315],[1990.9,295],[1990.96,290],[1991.02,280],[1991.08,270],[1991.14,262],[1991.2,258],
[1991.62,380],[1991.67,385],[1991.72,365],[1991.79,350],[1991.89,305],[1991.95,298],[1992.01,290],[1992.07,280],[1992.13,285],[1992.19,280],[1992.25,278],
[1992.59,370],[1992.63,378],[1992.67,390],[1992.71,368],[1992.74,355],[1992.77,345],[1992.8,330],[1992.83,325],[1992.89,290],[1992.95,285],[1993.01,280],[1993.07,275],[1993.13,270],[1993.19,275],[1993.25,272],[1993.31,278],[1993.37,270],
[1996.56,380],[1996.6,365],[1996.64,395],[1996.68,370],[1996.72,385],[1996.76,350],[1996.8,368],[1996.84,330],[1996.88,352],[1996.92,335],[1996.95,310],[1996.99,295],[1997.03,285],[1997.06,270],[1997.09,280],[1997.12,268],[1997.17,275],[1997.2,262],[1997.23,268],[1997.26,290],[1997.29,282],[1997.32,270],[1997.35,280],[1997.38,290],[1997.41,285],[1997.44,275],[1997.47,295],
[1997.51,310],[1997.54,330],[1997.57,340],[1997.61,358],[1997.64,335],[1997.67,340],[1997.7,320],[1997.73,330],[1997.76,312],[1997.79,315],[1997.82,320],[1997.85,305],[1997.88,300],[1997.92,290],[1997.95,282],[1997.98,275],
[1998.01,290],[1998.04,268],[1998.07,275],[1998.1,262],[1998.13,280],[1998.16,270],[1998.19,258],[1998.22,275],[1998.25,265],[1998.28,280],[1998.31,285],[1998.34,270],[1998.37,295],[1998.4,282],[1998.43,290],[1998.46,320],[1998.49,345],[1998.52,352],[1998.55,362],[1998.58,378],[1998.62,370],[1998.65,380],[1998.68,360],[1998.71,375],[1998.74,358],[1998.77,375],[1998.8,350],[1998.83,345],[1998.86,325],[1998.89,305],[1998.92,295],[1998.95,275],[1998.98,278],
[1999.02,268],[1999.05,262],[1999.08,280],[1999.11,258],[1999.14,275],[1999.17,262],[1999.2,250],[1999.23,262],[1999.26,275],[1999.29,270],[1999.32,285],[1999.35,295],[1999.38,290],[1999.43,320],[1999.46,332],[1999.49,340],[1999.52,325],[1999.55,360],[1999.58,345],[1999.61,365],[1999.64,352],[1999.67,350],[1999.7,340],[1999.73,345],[1999.76,330],[1999.79,335],[1999.82,320],[1999.85,325],[1999.88,318],[1999.91,310],[1999.94,300],[1999.97,295],[2000.01,285],[2000.04,275],[2000.07,268],[2000.1,262]
];

const FONT = '"Liberation Sans", Arial, sans-serif';
const PAD_TOP = 8;

// box, inward ticks and the station name
const framePlugin = {
  id: 'frame',
  afterDatasetsDraw(chart, args, o) {
    const ctx = chart.ctx;
    const a = chart.chartArea;
    const x = chart.scales.x;
    const y = chart.scales.y;
    ctx.save();
    ctx.strokeStyle = '#000';
    ctx.lineWidth = 2;
    ctx.beginPath();
    ctx.moveTo(a.right, a.top);
    ctx.lineTo(a.left, a.top);
    ctx.lineTo(a.left, a.bottom);
    ctx.lineTo(a.right, a.bottom);
    for (let yr = 1990; yr <= 2000; yr++) {
      const px = x.getPixelForValue(yr);
      const len = yr % 2 === 0 ? 20 : 11;
      ctx.moveTo(px, a.top); ctx.lineTo(px, a.top + len);
      ctx.moveTo(px, a.bottom); ctx.lineTo(px, a.bottom - len);
    }
    o.leftTicks.forEach(function(v) {
      const py = y.getPixelForValue(v);
      ctx.moveTo(a.left, py); ctx.lineTo(a.left + (o.leftMajor.includes(v) ? 20 : 9), py);
    });
    o.rightTicks.forEach(function(v, i) {
      const py = y.getPixelForValue(v);
      ctx.moveTo(a.right, py); ctx.lineTo(a.right - (i % 2 === 1 ? 20 : 7), py);
    });
    ctx.stroke();
    ctx.fillStyle = '#000';
    ctx.font = '25px ' + FONT;
    ctx.textAlign = 'center';
    ctx.textBaseline = 'middle';
    ctx.fillText(o.name, x.getPixelForValue(o.at[0]), y.getPixelForValue(o.at[1]));
    ctx.restore();
  }
};

function makePanel(id, p) {
  const canvas = document.getElementById(id);
  const h = PAD_TOP + (p.bottom - p.top) + p.axisH;
  canvas.width = 633;
  canvas.height = h;
  canvas.style.top = (p.top - PAD_TOP) + 'px';
  return new Chart(canvas.getContext('2d'), {
    type: 'scatter',
    data: {
      datasets: [{
        data: p.data.map(function(d) { return {x: d[0], y: d[1]}; }),
        pointStyle: 'cross',
        pointRadius: 4.2,
        pointBorderWidth: 2.1,
        borderColor: '#000',
        backgroundColor: '#000',
        clip: false
      }]
    },
    options: {
      responsive: false,
      animation: false,
      events: [],
      layout: { padding: { top: PAD_TOP, left: 0, right: 0, bottom: 0 } },
      plugins: {
        legend: { display: false },
        tooltip: { enabled: false },
        frame: { name: p.name, at: p.at, leftTicks: p.leftTicks, leftMajor: p.leftMajor, rightTicks: p.rightTicks }
      },
      scales: {
        x: {
          type: 'linear',
          min: 1988.96,
          max: 2000.455,
          grid: { display: false, drawTicks: false },
          border: { display: false },
          afterBuildTicks: function(s) { s.ticks = tickYears.map(function(v) { return {value: v}; }); },
          afterFit: function(s) { s.height = p.axisH; },
          ticks: { padding: 12, color: '#000', font: { family: FONT, size: 14 }, maxRotation: 0,
            callback: function(v) { return String(v); } },
          title: { display: !!p.xTitle, text: p.xTitle || '', color: '#000', font: { family: FONT, size: 15 },
            padding: { top: 0, bottom: 0 } }
        },
        y: {
          min: p.ticks[0],
          max: p.ticks[p.ticks.length - 1],
          grid: { display: false, drawTicks: false },
          border: { display: false },
          afterBuildTicks: function(s) { s.ticks = p.ticks.map(function(v) { return {value: v}; }); },
          afterFit: function(s) { s.width = 78; },
          ticks: { padding: 12, color: '#000', font: { family: FONT, size: 14 },
            callback: function(v) { return String(v); } }
        }
      }
    },
    plugins: [framePlugin]
  });
}

const ozoneMinor = [250, 300, 350, 400, 450];

makePanel('c0', { name: stations[0], data: toronto, ticks: ozoneTicks, top: 16, bottom: 200, axisH: 30,
  at: [1994.93, 415], leftTicks: ozoneMinor, leftMajor: [300, 400], rightTicks: ozoneMinor.slice().reverse() });
makePanel('c1', { name: stations[1], data: thessaloniki, ticks: ozoneTicks, top: 236, bottom: 418, axisH: 30,
  at: [1995.09, 421], leftTicks: ozoneMinor, leftMajor: [300, 400], rightTicks: ozoneMinor.slice().reverse() });
makePanel('c2', { name: stations[2], data: garmisch, ticks: garmischTicks, top: 455, bottom: 639, axisH: 30,
  at: [1995.03, 170], leftTicks: [50, 100, 150, 200, 250, 300, 350, 400, 450], leftMajor: [100, 200, 300, 400],
  rightTicks: [416.7, 333.3, 250, 166.7, 83.3] });
makePanel('c3', { name: stations[3], data: lauder, ticks: ozoneTicks, top: 676, bottom: 861, axisH: 39, xTitle: 'Year',
  at: [1994.72, 400], leftTicks: ozoneMinor, leftMajor: [300, 400], rightTicks: ozoneMinor.slice().reverse() });
</script>
</body>
</html>
